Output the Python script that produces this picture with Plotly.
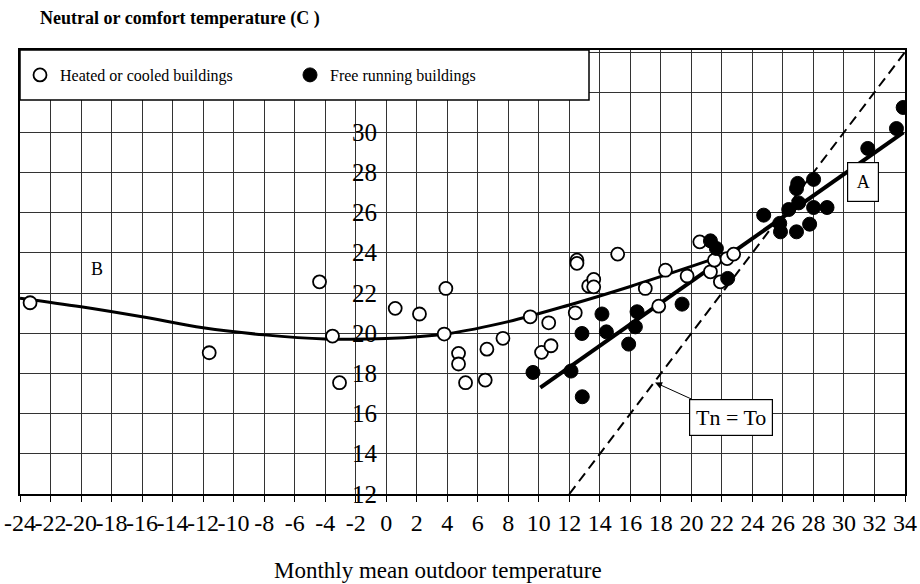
import plotly.graph_objects as go

# ---- data ----
heated_x = [-23.34, -11.6, -4.37, 3.91, 0.59, 2.18, -3.52, 3.80, -3.06, 4.74, 4.74, 5.2,
            6.6, 6.49, 7.65, 9.44, 10.65, 10.18, 10.8, 12.39, 12.5, 12.5, 13.27, 13.6,
            13.6, 15.17, 16.98, 17.86, 18.3, 19.72, 20.55, 21.25, 21.51, 21.9, 22.34, 22.77]
heated_y = [21.52, 19.03, 22.56, 22.23, 21.24, 20.96, 19.86, 19.96, 17.54, 19.0, 18.47, 17.54,
            19.21, 17.67, 19.75, 20.82, 20.52, 19.05, 19.38, 21.02, 23.64, 23.48, 22.35, 22.68,
            22.31, 23.94, 22.23, 21.35, 23.14, 22.85, 24.55, 23.06, 23.64, 22.56, 23.72, 23.94]

free_x = [9.62, 12.11, 12.83, 12.85, 14.14, 14.43, 16.44, 16.33, 15.89, 19.39, 21.25, 21.64,
          22.38, 24.74, 25.79, 25.84, 26.38, 26.89, 27.03, 26.89, 26.97, 28.01, 28.01, 27.75,
          28.89, 31.56, 33.44, 33.88]
free_y = [18.05, 18.12, 19.99, 16.84, 20.96, 20.07, 21.07, 20.32, 19.46, 21.45, 24.6, 24.22,
          22.73, 25.88, 25.47, 25.05, 26.16, 25.05, 26.49, 27.2, 27.46, 27.66, 26.26, 25.43,
          26.26, 29.2, 30.19, 31.24]

curve_b_x = [-24, -20, -16, -12, -8, -4, 0, 4, 8, 12, 16, 20, 22.8]
curve_b_y = [21.75, 21.32, 20.82, 20.27, 19.92, 19.72, 19.74, 19.98, 20.58, 21.41, 22.33, 23.33, 24.05]

line_a_x = [10.1, 33.9]
line_a_y = [17.3, 30.0]

identity_vals = [12, 34.2]

x_tick_vals = list(range(-24, 35, 2))
x_tick_text = [str(v) for v in x_tick_vals]
y_tick_vals = list(range(12, 31, 2))

SERIF = "Liberation Serif, Times New Roman, serif"

fig = go.Figure()

fig.add_trace(go.Scatter(x=identity_vals, y=identity_vals, mode="lines",
                         line=dict(color="black", width=2, dash="10px,6px"),
                         showlegend=False, hoverinfo="skip"))
fig.add_trace(go.Scatter(x=curve_b_x, y=curve_b_y, mode="lines",
                         line=dict(color="black", width=3, shape="spline"),
                         showlegend=False, hoverinfo="skip"))
fig.add_trace(go.Scatter(x=line_a_x, y=line_a_y, mode="lines",
                         line=dict(color="black", width=4),
                         showlegend=False, hoverinfo="skip"))
fig.add_trace(go.Scatter(x=heated_x, y=heated_y, mode="markers",
                         name="Heated or cooled buildings",
                         marker=dict(symbol="circle", size=13, color="white",
                                     line=dict(color="black", width=1.8))))
fig.add_trace(go.Scatter(x=free_x, y=free_y, mode="markers",
                         name="Free running buildings",
                         marker=dict(symbol="circle", size=14, color="black",
                                     line=dict(color="black", width=1))))

# legend box
fig.add_shape(type="rect", xref="paper", yref="paper",
              x0=0, x1=(589 - 20) / 885, y0=(494 - 100) / 444, y1=1,
              fillcolor="white", line=dict(color="black", width=1.5), layer="above")

annotations = []
for v in y_tick_vals:
    annotations.append(dict(x=-1.42, y=v, xref="x", yref="y", text=str(v),
                            showarrow=False, xanchor="center", yanchor="middle",
                            font=dict(family=SERIF, size=25, color="black")))

annotations.append(dict(x=31.25, y=27.54, xref="x", yref="y", text="A", showarrow=False,
                        font=dict(family=SERIF, size=18, color="black"),
                        bgcolor="white", bordercolor="black", borderwidth=1.2,
                        width=28, height=36, borderpad=1))
annotations.append(dict(x=-18.97, y=23.18, xref="x", yref="y", text="B", showarrow=False,
                        font=dict(family=SERIF, size=18, color="black")))
annotations.append(dict(x=17.62, y=17.55, xref="x", yref="y", text="Tn = To",
                        showarrow=True, ax=22.6, ay=15.83, axref="x", ayref="y",
                        arrowhead=2, arrowsize=1.4, arrowwidth=1, arrowcolor="black",
                        font=dict(family=SERIF, size=22, color="black"),
                        bgcolor="white", bordercolor="black", borderwidth=1.2,
                        width=80, height=33, borderpad=1))
annotations.append(dict(x=(38 - 20) / 885, y=(494 - 18) / 444, xref="paper", yref="paper",
                        text="<b>Neutral or comfort temperature (C )</b>", showarrow=False,
                        xanchor="left", yanchor="middle",
                        font=dict(family=SERIF, size=18, color="black")))
annotations.append(dict(x=(438 - 20) / 885, y=-(570 - 494) / 444, xref="paper", yref="paper",
                        text="Monthly mean outdoor temperature", showarrow=False,
                        xanchor="center", yanchor="middle",
                        font=dict(family=SERIF, size=23, color="black")))

fig.update_layout(
    width=920, height=584,
    margin=dict(l=20, r=15, t=50, b=90, autoexpand=False),
    paper_bgcolor="white", plot_bgcolor="white",
    font=dict(family=SERIF, color="black"),
    annotations=annotations,
    legend=dict(orientation="h", x=0.0, y=(494 - 75) / 444, xanchor="left", yanchor="middle",
                bgcolor="rgba(0,0,0,0)", font=dict(family=SERIF, size=16, color="black"),
                entrywidth=225, itemwidth=30),
    showlegend=True,
)

fig.update_xaxes(range=[-24, 34], tickmode="array", tickvals=x_tick_vals, ticktext=x_tick_text,
                 tickangle=0, tickfont=dict(family=SERIF, size=24, color="black"),
                 ticks="outside", ticklen=6, tickcolor="black", tickwidth=1, automargin=False,
                 showgrid=True, gridcolor="#333333", gridwidth=1, zeroline=False,
                 showline=True, linecolor="black", linewidth=2, mirror=True)
fig.update_yaxes(range=[12, 34.1], tickmode="array", tickvals=list(range(12, 35, 2)),
                 showticklabels=False, ticks="", automargin=False,
                 showgrid=True, gridcolor="#333333", gridwidth=1, zeroline=False,
                 showline=True, linecolor="black", linewidth=2, mirror=True)

fig.write_html("out.html")
